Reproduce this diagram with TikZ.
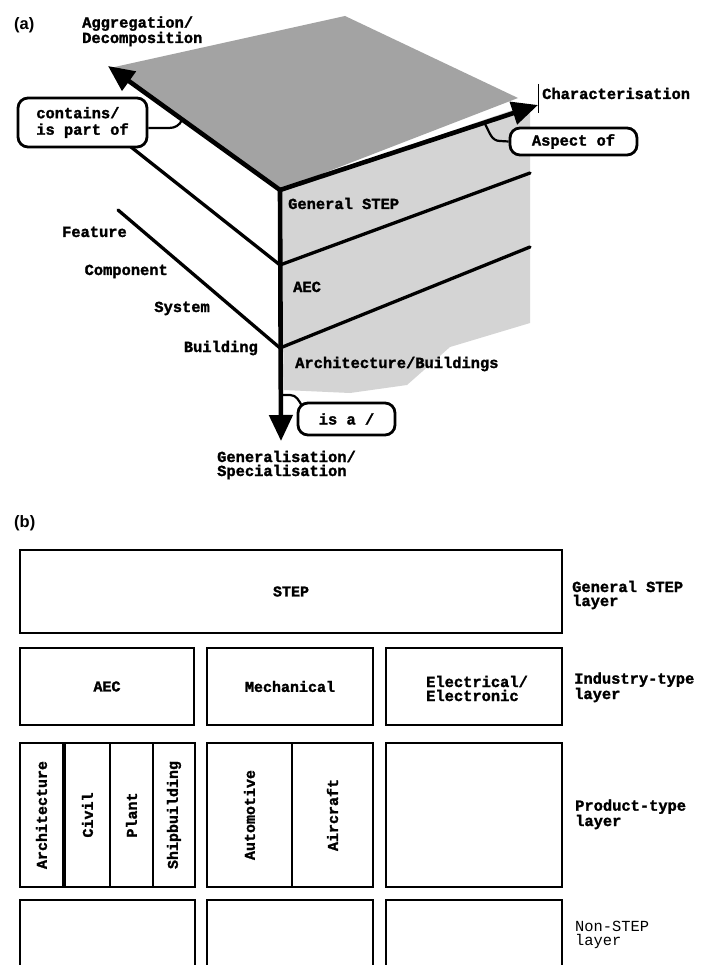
\documentclass[tikz,border=0pt]{standalone}
\usepackage{fontspec}
\setmainfont{Liberation Mono}[BoldFeatures={FakeBold=1.6}]
\newfontfamily\tagfont{Liberation Sans}
\usetikzlibrary{arrows.meta}

\begin{document}
\begin{tikzpicture}[x=1pt,y=-1pt,
  lbl/.style={font=\bfseries\fontsize{15.4}{14}\selectfont, inner sep=0pt, align=left},
  plainlbl/.style={font=\fontsize{15.4}{14}\selectfont, inner sep=0pt, align=left},
  tag/.style={font=\tagfont\bfseries\fontsize{16.5}{17}\selectfont, inner sep=0pt},
  axis/.style={line width=4.6pt, line cap=round, -{Triangle[length=26pt,width=23pt]}},
  faceline/.style={line width=3.3pt, line cap=round},
  callout/.style={draw, line width=2.8pt, rounded corners=10pt, fill=white,
    font=\bfseries\fontsize{15.4}{16.5}\selectfont, align=left, inner sep=0pt},
  tail/.style={line width=2.2pt},
  cell/.style={draw, line width=2.6pt, fill=white, inner sep=0pt,
    font=\bfseries\fontsize{15}{14}\selectfont, align=left},
  topshade/.style={fill=black!36},
  sideshade/.style={fill=black!17},
]
\useasboundingbox[fill=white] (0,0) rectangle (702,965);
\clip (0,0) rectangle (702,965);

% ---------------- (a) three-axis view ----------------
\coordinate (O) at (280,190);
\coordinate (aggTip) at (108,66);
\coordinate (chrTip) at (538,105);
\coordinate (genTip) at (281,441);

% shaded faces
\fill[topshade] (110,68) -- (345,16) -- (518,98) -- (O) -- cycle;
\fill[sideshade] (O) -- (530,104) -- (530,323) -- (450,347) -- (407,385)
  -- (350,393) -- (284,390) -- cycle;

% layer boundaries on the side face
\coordinate (s1a) at (280,265);
\coordinate (s1b) at (530,173);
\coordinate (s2a) at (280,348);
\coordinate (s2b) at (530,247);
\draw[faceline] (s1a) -- (s1b);
\draw[faceline] (s2a) -- (s2b);

% decomposition levels
\coordinate (d1) at (131,147);
\coordinate (d2) at (118,210);
\draw[faceline] (d1) -- (s1a);
\draw[faceline] (d2) -- (s2a);

% the three axes
\draw[axis] (O) -- (aggTip);
\draw[axis] (O) -- (chrTip);
\draw[axis] (O) -- (genTip);

% axis titles (base anchor = baseline of the last line)
\node[tag, anchor=base west] (tagA) at (14,30) {(a)};
\node[lbl, anchor=base west] (aggT) at (82,43) {Aggregation/\\Decomposition};
\node[lbl, anchor=base west] (chrT) at (542,99) {Characterisation};
\coordinate (tickA) at (538,84);
\coordinate (tickB) at (538,113);
\draw[line width=1pt] (tickA) -- (tickB);
\node[lbl, anchor=base west] (genT) at (217,476) {Generalisation/\\Specialisation};

% relation callouts
\node[callout, minimum width=129pt, minimum height=49pt] (contains) at (82.5,122.5)
  {contains/\\is part of};
\coordinate (cAt) at (182,120);
\draw[tail] (contains.east |- 0,128) -- (169,128) to[out=0,in=-115] (cAt);

\node[callout, minimum width=127pt, minimum height=27pt] (aspect) at (573.5,141.5)
  {Aspect of};
\coordinate (aAt) at (485,124);
\draw[tail] (aspect.west) -- (500,141) to[out=180,in=-60] (aAt);

\node[callout, minimum width=97pt, minimum height=32pt] (isa) at (346.5,419) {is a /};
\coordinate (iAt) at (283,395);
\draw[tail] (iAt) -- (290,395) to[out=0,in=120] (302,406);

% layer names on the side face
\node[lbl, anchor=base west] (lGen) at (288,209) {General STEP};
\node[lbl, anchor=base west] (lAec) at (293,292) {AEC};
\node[lbl, anchor=base west] (lArch) at (295,368) {Architecture/Buildings};

% decomposition level names
\node[lbl, anchor=base east] (lFeat) at (127,237) {Feature};
\node[lbl, anchor=base east] (lComp) at (168,275) {Component};
\node[lbl, anchor=base east] (lSys) at (210,312) {System};
\node[lbl, anchor=base east] (lBld) at (258,352) {Building};

% ---------------- (b) layer grid ----------------
\node[tag, anchor=base west] (tagB) at (14,527) {(b)};

\node[cell, minimum width=542pt, minimum height=83pt] (step) at (291,591.5) {STEP};

\node[cell, minimum width=174pt, minimum height=77pt] (iAec) at (107,686.5) {AEC};
\node[cell, minimum width=166pt, minimum height=77pt] (iMech) at (290,686.5) {Mechanical};
\node[cell, minimum width=176pt, minimum height=77pt] (iElec) at (474,686.5) {};
\node[lbl, anchor=base west] (elecT) at (426,701) {Electrical/\\Electronic};

\node[cell, minimum width=43pt, minimum height=144pt] (pArch) at (41.5,815)
  {\rotatebox{90}{Architecture}};
\node[cell, minimum width=45pt, minimum height=144pt] (pCivil) at (87.5,815)
  {\rotatebox{90}{Civil}};
\node[cell, minimum width=43pt, minimum height=144pt] (pPlant) at (131.5,815)
  {\rotatebox{90}{Plant}};
\node[cell, minimum width=42pt, minimum height=144pt] (pShip) at (174,815)
  {\rotatebox{90}{Shipbuilding}};
\node[cell, minimum width=85pt, minimum height=144pt] (pAuto) at (249.5,815)
  {\rotatebox{90}{Automotive}};
\node[cell, minimum width=81pt, minimum height=144pt] (pAir) at (332.5,815)
  {\rotatebox{90}{Aircraft}};
\node[cell, minimum width=176pt, minimum height=144pt] (pOther) at (474,815) {};

\node[cell, minimum width=175pt, minimum height=90pt] (nAec) at (107.5,945) {};
\node[cell, minimum width=166pt, minimum height=90pt] (nMech) at (290,945) {};
\node[cell, minimum width=176pt, minimum height=90pt] (nElec) at (474,945) {};

% layer names
\node[lbl, anchor=base west] (rGen) at (572,606) {General STEP\\layer};
\node[lbl, anchor=base west] (rInd) at (574,699) {Industry-type\\layer};
\node[lbl, anchor=base west] (rProd) at (575,826) {Product-type\\layer};
\node[plainlbl, anchor=base west] (rNon) at (575,945) {Non-STEP\\layer};
\end{tikzpicture}
\end{document}
